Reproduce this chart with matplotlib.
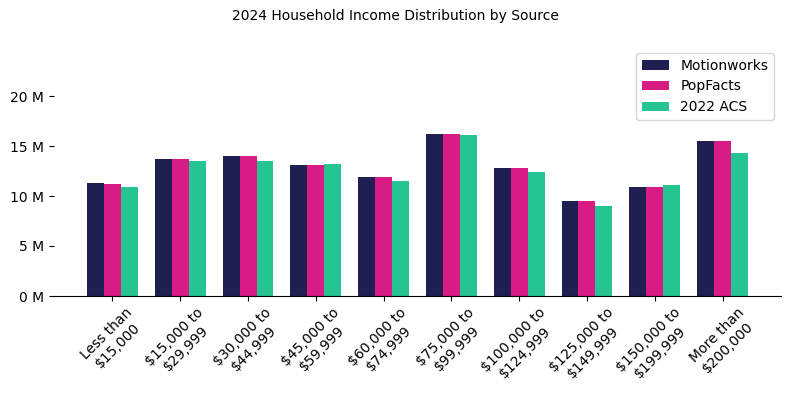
import numpy as np
import matplotlib.pyplot as plt

categories = ['Less than\n$15,000', '$15,000 to\n$29,999', '$30,000 to\n$44,999',
              '$45,000 to\n$59,999', '$60,000 to\n$74,999', '$75,000 to\n$99,999',
              '$100,000 to\n$124,999', '$125,000 to\n$149,999', '$150,000 to\n$199,999',
              'More than\n$200,000']
motionworks = [11.27, 13.67, 13.97, 13.07, 11.87, 16.2, 12.77, 9.47, 10.87, 15.47]
popfacts = [11.17, 13.67, 13.97, 13.07, 11.87, 16.2, 12.77, 9.47, 10.87, 15.47]
acs2022 = [10.87, 13.47, 13.47, 13.17, 11.47, 16.1, 12.37, 8.97, 11.07, 14.27]
yticks = [0, 5, 10, 15, 20]

x = np.arange(len(categories))
w = 0.25

fig, ax = plt.subplots(figsize=(7.9, 3.97), dpi=100)
ax.bar(x - w, motionworks, w, color='#1f1f52', label='Motionworks')
ax.bar(x, popfacts, w, color='#d81b85', label='PopFacts')
ax.bar(x + w, acs2022, w, color='#26c493', label='2022 ACS')

ax.set_ylim(0, 25)
ax.set_yticks(yticks)
ax.set_yticklabels(['%d M' % v for v in yticks])
ax.set_xticks(x)
ax.set_xticklabels(categories, rotation=45)
for s in ['top', 'right', 'left']:
    ax.spines[s].set_visible(False)
fig.suptitle('2024 Household Income Distribution by Source', fontsize=10,
             y=1 - 16 / 397, va='center')
ax.legend(loc='upper right')
fig.subplots_adjust(left=54 / 790, right=781 / 790, bottom=101 / 397, top=351 / 397)
plt.savefig('out.png')
